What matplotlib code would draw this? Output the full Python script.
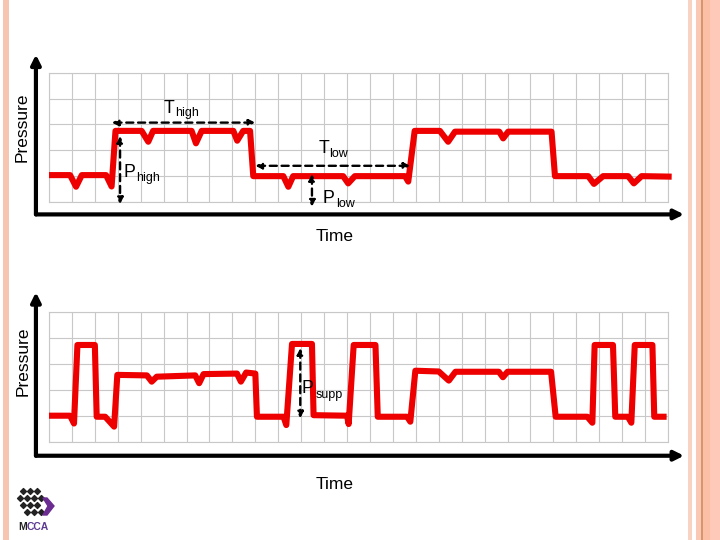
import matplotlib
matplotlib.use('Agg')
import matplotlib.pyplot as plt
from matplotlib.patches import Rectangle, Polygon

plt.rcParams['font.family'] = ['Liberation Sans', 'DejaVu Sans']

# top diagram: time (grid columns) and pressure (grid rows)
top_t = [0.0, 0.92, 1.18, 1.43, 2.49, 2.73, 2.90, 4.04, 4.33, 4.54, 6.22, 6.41, 6.66,
         8.04, 8.21, 8.47, 8.77, 8.91, 10.22, 10.44, 10.65, 12.83, 13.05, 13.34,
         15.53, 15.67, 15.95, 17.05, 17.41, 17.71, 19.64, 19.81, 20.03, 21.92, 22.07,
         23.52, 23.77, 24.17, 25.26, 25.51, 25.85, 27.16]
top_p = [1.04, 1.04, 0.59, 1.04, 1.04, 0.60, 2.75, 2.75, 2.33, 2.75, 2.75, 2.27, 2.75,
         2.75, 2.37, 2.75, 2.75, 1.00, 1.00, 0.59, 1.00, 1.00, 0.72, 1.00,
         1.00, 0.79, 2.75, 2.75, 2.33, 2.72, 2.72, 2.46, 2.72, 2.72, 1.00,
         1.00, 0.70, 1.00, 1.00, 0.72, 1.00, 0.98]

# bottom diagram
bot_t = [0.0, 0.92, 1.09, 1.24, 2.00, 2.08, 2.45, 2.84, 2.98, 4.27, 4.48, 4.70,
         6.38, 6.55, 6.74, 8.20, 8.37, 8.60, 9.00, 9.07, 10.23, 10.35, 10.60,
         11.47, 11.54, 13.00, 13.07, 13.29, 14.24, 14.34, 15.62, 15.76, 15.98,
         17.00, 17.44, 17.73, 19.62, 19.80, 20.00, 21.90, 22.10, 23.48, 23.70,
         23.80, 24.60, 24.70, 25.25, 25.40, 25.55, 26.32, 26.40, 26.94]
bot_p = [1.00, 1.00, 0.70, 3.72, 3.72, 0.96, 0.96, 0.58, 2.57, 2.55, 2.31, 2.50,
         2.55, 2.25, 2.60, 2.62, 2.31, 2.66, 2.62, 0.96, 0.96, 0.64, 3.76,
         3.76, 1.02, 1.00, 0.68, 3.72, 3.72, 0.96, 0.96, 0.77, 2.73,
         2.70, 2.35, 2.69, 2.69, 2.48, 2.69, 2.69, 0.96, 0.96, 0.73,
         3.72, 3.72, 0.96, 0.96, 0.73, 3.72, 3.72, 0.96, 0.96]

n_cols, n_rows = 27, 5
red = '#EE0000'

W, H = 720, 540
fig = plt.figure(figsize=(7.2, 5.4), dpi=100)

# slide decoration
def px_rect(x0, x1, color):
    fig.patches.append(Rectangle((x0 / W, 0), (x1 - x0) / W, 1, transform=fig.transFigure,
                                 facecolor=color, edgecolor='none', zorder=0))

px_rect(3, 9, '#F7C6B2')
px_rect(688, 692, '#F8D2C2')
px_rect(696, 701, '#F9C9B5')
px_rect(701, 703, '#D8946A')
px_rect(703, 710, '#FBBFA6')
px_rect(710, 720, '#FFC9BA')


def dashed_arrow(ax, p0, p1):
    ax.annotate('', xy=p1, xytext=p0, annotation_clip=False,
                arrowprops=dict(arrowstyle='<|-|>', linestyle=(0, (3, 2)), lw=1.7,
                                color='black', mutation_scale=9, shrinkA=0, shrinkB=0))


def label(ax, x, y, main, sub, subx, suby, subsize=9):
    ax.text(x, y, main, fontsize=12.8, va='baseline', ha='left', clip_on=False)
    ax.text(subx, suby, sub, fontsize=subsize, va='baseline', ha='left', clip_on=False)


def diagram(rect, t, p, ax_y, tip_y):
    ax = fig.add_axes(rect)
    ax.set_xlim(0, n_cols)
    ax.set_ylim(0, n_rows)
    ax.set_xticks(range(n_cols + 1))
    ax.set_yticks(range(n_rows + 1))
    ax.tick_params(length=0, labelbottom=False, labelleft=False)
    ax.grid(color='#C8C8C8', lw=0.8)
    for s in ax.spines.values():
        s.set_color('#C8C8C8')
        s.set_linewidth(0.8)
    ax.set_facecolor('none')
    ax.plot(t, p, color=red, lw=4.4, solid_joinstyle='round', solid_capstyle='butt',
            clip_on=False, zorder=3)
    # axes arrows
    ax.annotate('', xy=(-0.57, tip_y), xytext=(-0.57, ax_y), annotation_clip=False,
                arrowprops=dict(arrowstyle='-|>', lw=3, color='black',
                                mutation_scale=14, shrinkA=0, shrinkB=0))
    ax.annotate('', xy=(27.7, ax_y), xytext=(-0.57, ax_y), annotation_clip=False,
                arrowprops=dict(arrowstyle='-|>', lw=3, color='black',
                                mutation_scale=14, shrinkA=0, shrinkB=0))
    return ax


ax1 = diagram([49 / W, 1 - 202 / H, 619 / W, 129.3 / H], top_t, top_p, -0.48, 5.7)
ax2 = diagram([49 / W, 1 - 441.7 / H, 619 / W, 130 / H], bot_t, bot_p, -0.54, 5.75)

# top annotations
dashed_arrow(ax1, (2.74, 3.07), (9.0, 3.07))
dashed_arrow(ax1, (9.0, 1.40), (15.76, 1.40))
dashed_arrow(ax1, (3.1, 2.55), (3.1, -0.08))
dashed_arrow(ax1, (11.47, 1.08), (11.47, -0.18))
label(ax1, 5.0, 3.45, 'T', 'high', 5.5, 3.33)
label(ax1, 11.75, 1.91, 'T', 'low', 12.24, 1.75)
label(ax1, 3.25, 0.95, 'P', 'high', 3.82, 0.80)
label(ax1, 11.95, -0.05, 'P', 'low', 12.52, -0.19)
ax1.text(12.47, -1.33, 'Time', fontsize=12.5, ha='center', va='center', clip_on=False)
ax1.text(-1.18, 2.9, 'Pressure', fontsize=12.5, rotation=90, ha='center', va='center',
         clip_on=False)

# bottom annotations
dashed_arrow(ax2, (10.96, 3.6), (10.96, 0.9))
label(ax2, 11.03, 1.86, 'P', 'supp', 11.62, 1.68)
ax2.text(12.47, -1.63, 'Time', fontsize=12.5, ha='center', va='center', clip_on=False)
ax2.text(-1.11, 3.1, 'Pressure', fontsize=12.5, rotation=90, ha='center', va='center',
         clip_on=False)

# small MCCA logo, pixel coordinates
logo_x = [23, 30, 37, 20, 27, 34, 41, 23, 30, 37, 27, 34, 41]
logo_y = [491, 491, 491, 498, 498, 498, 498, 505, 505, 505, 512, 512, 512]
lax = fig.add_axes([12 / W, 1 - 538 / H, 48 / W, 52 / H])
lax.set_xlim(12, 60)
lax.set_ylim(538, 486)
lax.axis('off')
lax.scatter(logo_x, logo_y, marker='D', s=9, color='#222222')
lax.add_patch(Polygon([(43, 498), (47, 498), (54, 506), (47, 515), (43, 515), (48, 506)],
                      closed=True, color='#6A2C91'))
lax.text(18, 527, 'M', fontsize=7.5, fontweight='bold', color='#222222', va='center')
lax.text(27, 527, 'CCA', fontsize=7.5, fontweight='bold', color='#5B3A91', va='center')

fig.savefig('out.png', dpi=100)
